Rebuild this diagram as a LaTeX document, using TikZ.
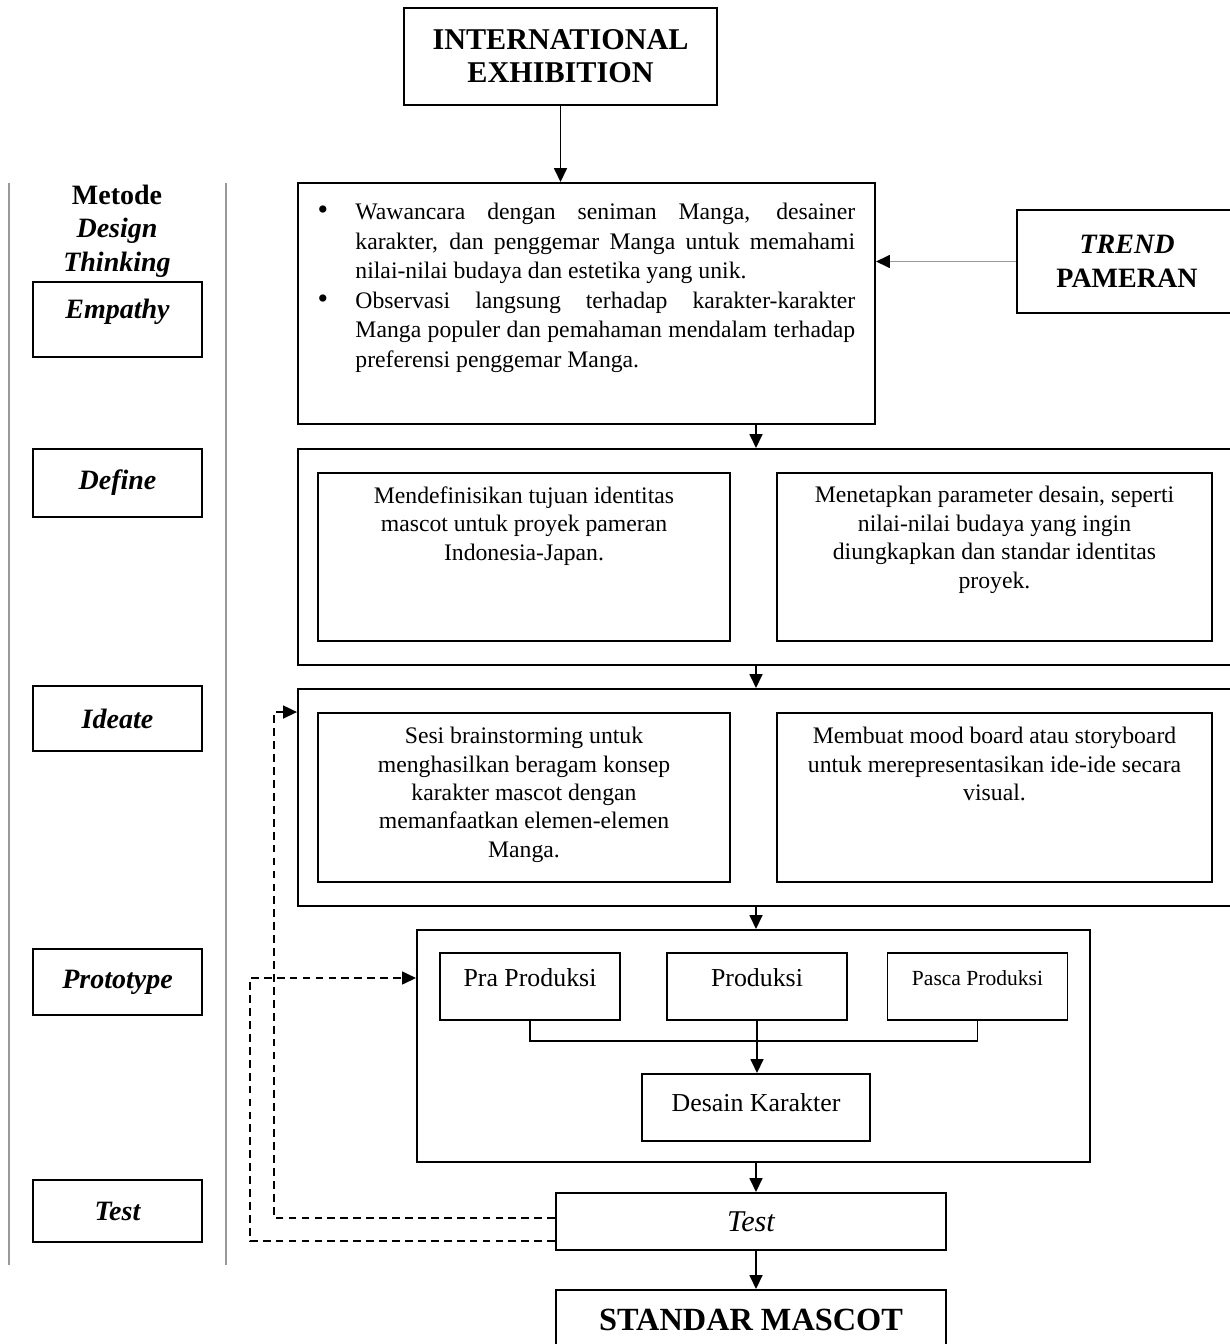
\documentclass[tikz,border=0pt]{standalone}
\usepackage{fontspec}
\setmainfont{Liberation Serif}
\usetikzlibrary{arrows.meta,positioning}
\tikzset{
  box/.style={draw, line width=0.9pt, inner sep=0pt},
  wh/.style 2 args={minimum width=#1*0.464pt, minimum height=#2*0.464pt},
  arr/.style={line width=0.9pt, -{Triangle[length=6.5pt,width=6pt]}},
  fb/.style={line width=0.8pt, dash pattern=on 3.6pt off 2.4pt, -{Triangle[length=6.5pt,width=6pt]}},
  colrule/.style={gray!80, line width=0.6pt},
  stage/.style={box, wh={169}{#1}, font=\fontsize{13}{15}\selectfont\bfseries\itshape},
  raised/.style={text depth=10pt},
  flat/.style={},
  body/.style={font=\fontsize{11}{13.2}\selectfont, align=center, inner sep=0pt},
  head/.style={font=\fontsize{13}{15.5}\selectfont\bfseries, align=center},
}
\begin{document}
\begin{tikzpicture}[x=0.464pt,y=-0.464pt]
    \useasboundingbox (0,0) rectangle (1230,1344);
    \clip (0,0) rectangle (1230,1344);
    \coordinate (axis) at (756,0);
    \node[box, wh={313}{97}, head, font=\fontsize{14}{15.3}\selectfont\bfseries] (intl) at (560.5,56.5) {INTERNATIONAL\\EXHIBITION};
    % kolom metode
    \draw[colrule] (9,183) -- (9,1265);
    \draw[colrule] (226,183) -- (226,1265);
    \node[head] (metode) at (117,231) {Metode\\\textit{Design}\\\textit{Thinking}};
    \foreach \nm/\lab/\yc/\h/\st in {sEmp/Empathy/319.5/75/raised,
      sDef/Define/483/68/flat, sIde/Ideate/718.5/65/flat,
      sPro/Prototype/982/66/flat, sTes/Test/1211/62/flat}{
      \node[stage=\h, \st] (\nm) at (117.5,\yc) {\lab};
    }
    % empathy
    \node[box, wh={577}{241}] (emp) at (586.5,303.5) {};
    \node[anchor=north west, inner sep=0pt, font=\fontsize{11}{13.7}\selectfont] (empTxt) at (316,203) {%
      \begin{minipage}[t]{250pt}
      \begin{list}{{\fontsize{14}{13.7}\selectfont\textbullet}}{\setlength{\leftmargin}{18.1pt}\setlength{\labelwidth}{5.5pt}%
        \setlength{\labelsep}{12.6pt}\setlength{\itemsep}{0pt}\setlength{\parsep}{0pt}\setlength{\topsep}{0pt}}
      \item Wawancara dengan seniman Manga, desainer\linebreak karakter, dan penggemar Manga untuk memahami\linebreak nilai-nilai budaya dan estetika yang unik.
      \item Observasi langsung terhadap karakter-karakter\linebreak Manga populer dan pemahaman mendalam terhadap\linebreak preferensi penggemar Manga.
      \end{list}
      \end{minipage}};
    \node[box, wh={220}{103}, head] (trend) at (1127,261.5) {\textit{TREND}\\PAMERAN};
    % define
    \node[box, wh={942}{216}] (def) at (769,557) {};
    \node[box, wh={412}{168}] (defL) at (524,557) {};
    \node[box, wh={435}{168}] (defR) at (994.5,557) {};
    \node[body, below=6.5pt of defL.north] (defLtxt) {Mendefinisikan tujuan identitas\\mascot untuk proyek pameran\\Indonesia-Japan.};
    \node[body, below=6.5pt of defR.north] (defRtxt) {Menetapkan parameter desain, seperti\\nilai-nilai budaya yang ingin\\diungkapkan dan standar identitas\\proyek.};
    % ideate
    \node[box, wh={942}{217}] (ide) at (769,797.5) {};
    \node[box, wh={412}{169}] (ideL) at (524,797.5) {};
    \node[box, wh={435}{169}] (ideR) at (994.5,797.5) {};
    \node[body, below=6.8pt of ideL.north] (ideLtxt) {Sesi brainstorming untuk\\menghasilkan beragam konsep\\karakter mascot dengan\\memanfaatkan elemen-elemen\\Manga.};
    \node[body, below=6.8pt of ideR.north] (ideRtxt) {Membuat mood board atau storyboard\\untuk merepresentasikan ide-ide secara\\visual.};
    % prototype
    \node[box, wh={673}{232}] (proto) at (753.5,1046) {};
    \node[box, wh={180}{67}, text depth=8pt, font=\fontsize{12}{14}\selectfont] (pra) at (530,986.5) {Pra Produksi};
    \node[box, wh={180}{67}, text depth=8pt, font=\fontsize{12}{14}\selectfont] (prod) at (757,986.5) {Produksi};
    \node[box, wh={180}{67}, text depth=8pt, font=\fontsize{10}{12}\selectfont] (pasca) at (977.5,986.5) {Pasca Produksi};
    \node[box, wh={228}{67}, text depth=5pt, font=\fontsize{12}{14}\selectfont] (desain) at (756,1107.5) {Desain Karakter};
    \coordinate (join) at (756,1041);
    \draw[line width=0.9pt] (pra.south) |- (join) -| (pasca.south);
    \draw[arr] (prod.south) -- (prod.south |- desain.north);
    % test dan standar
    \node[box, wh={390}{57}, font=\fontsize{14}{16}\selectfont\itshape] (test) at (751,1221.5) {Test};
    \node[box, wh={390}{60}, font=\fontsize{15}{17}\selectfont\bfseries] (std) at (751,1320) {STANDAR MASCOT};
    \draw[arr] (intl.south) -- (intl.south |- emp.north);
    \draw[line width=0.9pt, gray!80, -{Triangle[length=6.5pt,width=6pt,color=black,fill=black]}] (trend.west) -- (trend.west -| emp.east);
    \foreach \a/\b in {emp/def, def/ide, ide/proto, proto/test, test/std}
      \draw[arr] (\a.south -| axis) -- (\b.north -| axis);
    % umpan balik
    \coordinate (loopA) at (274,1218);
    \coordinate (loopB) at (250,1241);
    \coordinate (loopBtop) at (250,978);
    \draw[fb] (test.west |- loopA) -- (loopA) |- (ide.west |- ideL.north);
    \draw[fb] (test.west |- loopB) -- (loopB) -- (loopBtop) -- (loopBtop -| proto.west);
\end{tikzpicture}
\end{document}
